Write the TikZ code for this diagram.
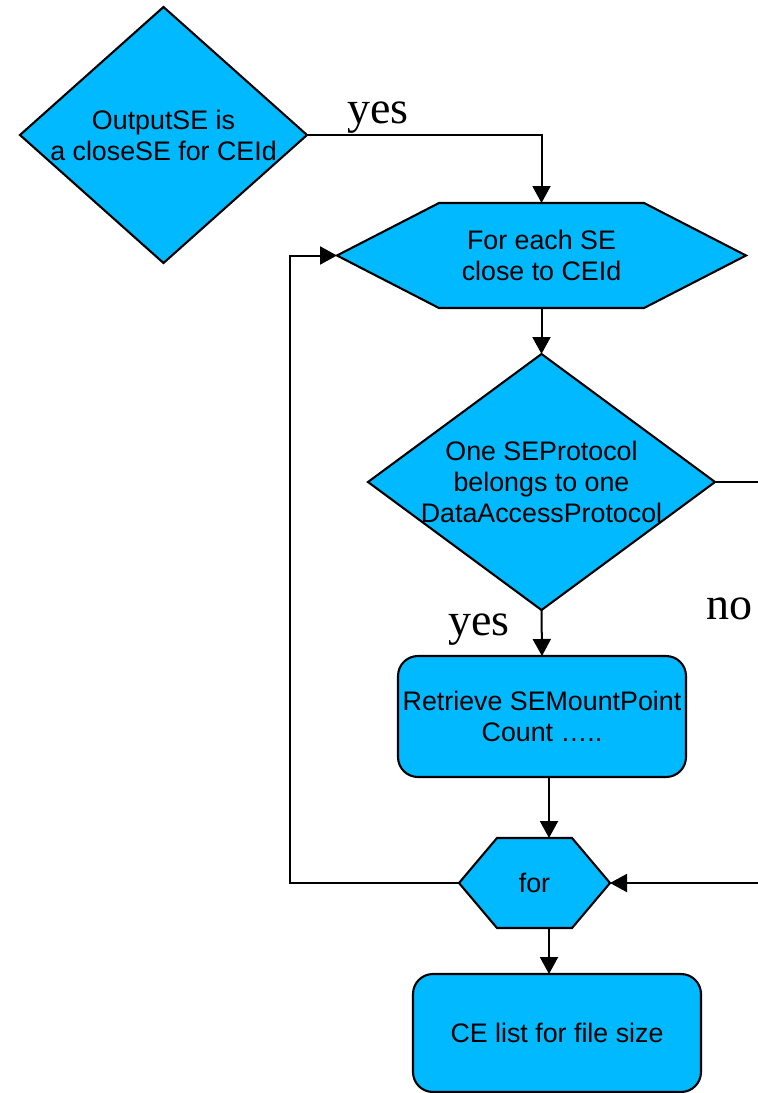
\documentclass[tikz,border=0pt]{standalone}
\usepackage{fontspec}
\setmainfont{Liberation Sans}
\newfontfamily\lblfont{Liberation Serif}
\usetikzlibrary{arrows.meta,backgrounds}
\definecolor{boxblue}{RGB}{0,185,255}
\begin{document}
\begin{tikzpicture}[x=0.5pt,y=-0.5pt,
  box/.style={draw=none, inner sep=0pt, outer sep=0pt, align=center, font=\fontsize{13.4}{15.5}\selectfont},
  shapeline/.style={draw=black, fill=boxblue, line width=1.05pt, line join=miter},
  rbox/.style={box, draw=black, fill=boxblue, line width=1.05pt, rounded corners=10pt},
  arr/.style={line width=1pt, -{Triangle[width=9pt,length=8.5pt]}},
  lbl/.style={inner sep=0pt, font=\lblfont\fontsize{23}{23}\selectfont, anchor=base west}]
\useasboundingbox (0,0) rectangle (758,1093);
\clip (0,0) rectangle (758,1093);
% nodes
\node[box, minimum width=143.5pt, minimum height=128pt] (d1) at (163.5,135) {OutputSE is\\a closeSE for CEId};
\node[box, minimum width=204.5pt, minimum height=52.5pt] (h1) at (541.5,255.5) {For each SE\\close to CEId};
\node[box, minimum width=173.5pt, minimum height=128pt] (d2) at (541.5,482) {One SEProtocol\\belongs to one\\DataAccessProtocol};
\node[rbox, minimum width=144pt, minimum height=60.5pt] (r1) at (542,716.5) {Retrieve SEMountPoint\\Count …..};
\node[box, minimum width=75.5pt, minimum height=45pt] (f) at (534.5,883) {for};
\node[rbox, minimum width=144pt, minimum height=59pt] (r2) at (557,1033) {CE list for file size};
% shapes behind text
\begin{scope}[on background layer]
\draw[shapeline] (d1.north) -- (d1.east) -- (d1.south) -- (d1.west) -- cycle;
\draw[shapeline] (d2.north) -- (d2.east) -- (d2.south) -- (d2.west) -- cycle;
\draw[shapeline] (h1.west) -- ([xshift=51pt]h1.north west) -- ([xshift=-51pt]h1.north east) -- (h1.east) -- ([xshift=-51pt]h1.south east) -- ([xshift=51pt]h1.south west) -- cycle;
\draw[shapeline] (f.west) -- ([xshift=19pt]f.north west) -- ([xshift=-19pt]f.north east) -- (f.east) -- ([xshift=-19pt]f.south east) -- ([xshift=19pt]f.south west) -- cycle;
\end{scope}
% connectors
\coordinate (lp) at (290,0);
\coordinate (rp) at (790,0);
\draw[arr] (d1.east) -| (h1.north);
\draw[arr] (h1.south) -- (d2.north);
\draw[arr] (d2.south) -- (r1.north);
\draw[arr] ([xshift=3.5pt]r1.south) -- ([xshift=3.5pt]r1.south |- f.north);
\draw[arr] ([xshift=3.5pt]r1.south |- f.south) -- ([xshift=3.5pt]r1.south |- r2.north);
\draw[arr] (f.west) -- (f.west -| lp) |- (h1.west);
\draw[arr] (d2.east) -- (d2.east -| rp) |- (f.east);
% labels
\node[lbl] (y1) at (347,123) {yes};
\node[lbl] (y2) at (448,635) {yes};
\node[lbl] (n1) at (706,619) {no};
\end{tikzpicture}
\end{document}
